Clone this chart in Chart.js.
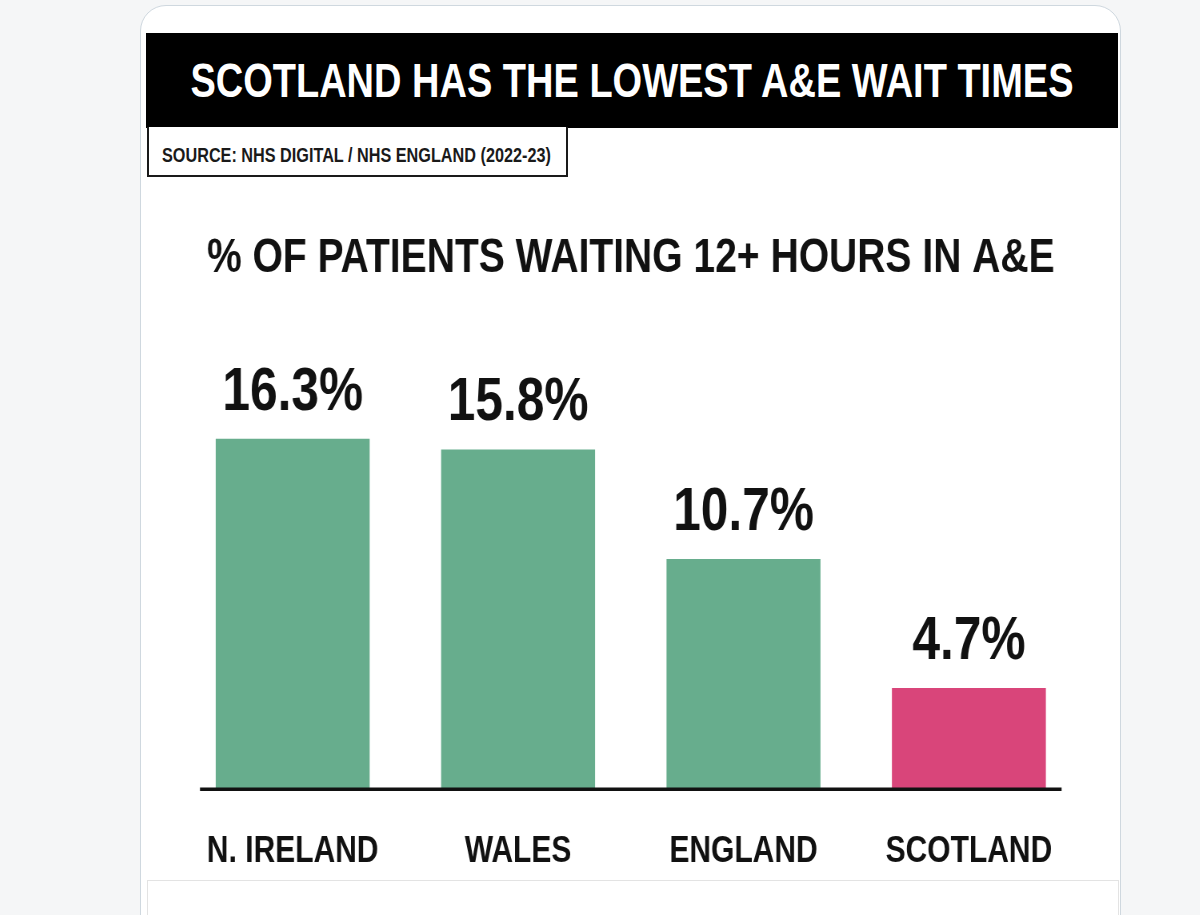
<!DOCTYPE html>
<html>
<head>
<meta charset="utf-8">
<script src="https://cdn.jsdelivr.net/npm/chart.js@4.4.1/dist/chart.umd.min.js"></script>
<style>
  body { margin: 0; background: #f5f6f7; width: 1200px; height: 915px; overflow: hidden; position: relative;
         font-family: "Liberation Sans", Arial, sans-serif; }
  .card { position: absolute; left: 140px; top: 5px; width: 979px; height: 960px; background: #fff;
          border: 1.5px solid #cfd8df; border-radius: 26px; }
  .narrow { display: inline-block; transform: scaleX(0.8); white-space: nowrap; }
  .banner { position: absolute; left: 146px; top: 33px; width: 972px; height: 95px; background: #000;
            color: #fff; font-weight: bold; font-size: 47.5px; line-height: 95px;
            display: flex; justify-content: center; }
  .banner .narrow { transform-origin: center; flex: none; }
  .source { position: absolute; left: 147px; top: 127px; width: 417px; height: 48px; border: 2px solid #1a1a1a;
            border-top: none; background: #fff; color: #1a1a1a; font-weight: bold; font-size: 20.3px;
            line-height: 57px; white-space: nowrap; }
  .source .narrow { transform-origin: left center; margin-left: 13px; }
  .footer { position: absolute; left: 147px; top: 880px; width: 970px; height: 60px; border: 1px solid #e3e3e3; background: #fff; }
  /* chart is laid out 1/0.8 wider, then squeezed so the text looks condensed */
  #wrap { position: absolute; left: 147px; top: 180px; width: 1212px; height: 744px;
          transform: scaleX(0.8); transform-origin: left top; pointer-events: none; }
  #waitChart { width: 1212px; height: 744px; display: block; }
</style>
</head>
<body>
<div class="card"></div>
<div class="banner"><span class="narrow">SCOTLAND HAS THE LOWEST A&amp;E WAIT TIMES</span></div>
<div class="source"><span class="narrow">SOURCE: NHS DIGITAL / NHS ENGLAND (2022-23)</span></div>
<div class="footer"></div>
<div id="wrap"><canvas id="waitChart" width="1212" height="744"></canvas></div>
<script>
const regions = ['N. IRELAND', 'WALES', 'ENGLAND', 'SCOTLAND'];
const pctWaiting12h = [16.3, 15.8, 10.7, 4.7];
const barColors = ['#67ad8d', '#67ad8d', '#67ad8d', '#d9457a'];

const FONT = '"Liberation Sans", Arial, sans-serif';
const SQUEEZE = 0.8;

// value labels above bars + short baseline
const barExtras = {
    id: 'barExtras',
    afterDatasetsDraw(chart) {
        const ctx = chart.ctx;
        const area = chart.chartArea;
        const inset = 20 / SQUEEZE;
        ctx.save();
        ctx.strokeStyle = '#111';
        ctx.lineWidth = 3.5;
        ctx.beginPath();
        ctx.moveTo(area.left + inset, area.bottom);
        ctx.lineTo(area.right - inset, area.bottom);
        ctx.stroke();

        ctx.fillStyle = '#111';
        ctx.font = 'bold 62px ' + FONT;
        ctx.textAlign = 'center';
        ctx.textBaseline = 'alphabetic';
        chart.getDatasetMeta(0).data.forEach((bar, i) => {
            ctx.fillText(pctWaiting12h[i] + '%', bar.x, bar.y - 29);
        });
        ctx.restore();
    }
};

const ctx = document.getElementById('waitChart').getContext('2d');
new Chart(ctx, {
    type: 'bar',
    data: {
        labels: regions,
        datasets: [{
            data: pctWaiting12h,
            backgroundColor: barColors,
            borderWidth: 0,
            categoryPercentage: 1,
            barPercentage: 0.683
        }]
    },
    options: {
        responsive: false,
        devicePixelRatio: 1,
        animation: false,
        layout: { padding: { top: 49, left: 33 / SQUEEZE, right: 35 / SQUEEZE, bottom: 9.8 } },
        plugins: {
            legend: { display: false },
            tooltip: { enabled: false },
            title: {
                display: true,
                text: '% OF PATIENTS WAITING 12+ HOURS IN A&E',
                color: '#111',
                font: { family: FONT, size: 48.8, weight: 'bold', lineHeight: 1.2 },
                padding: { top: 0, bottom: 71.5 }
            }
        },
        scales: {
            x: {
                grid: { display: false, drawTicks: false },
                border: { display: false },
                ticks: {
                    color: '#111',
                    padding: 40,
                    maxRotation: 0,
                    autoSkip: false,
                    font: { family: FONT, size: 37.5, weight: 'bold', lineHeight: 1.2 }
                }
            },
            y: {
                display: false,
                min: 0,
                max: 20
            }
        }
    },
    plugins: [barExtras]
});
</script>
</body>
</html>
